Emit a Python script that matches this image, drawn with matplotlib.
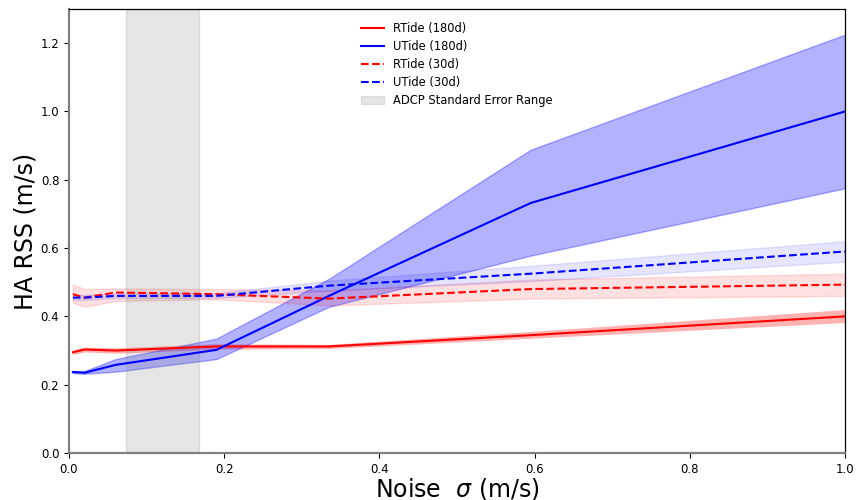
import matplotlib
matplotlib.use("Agg")
import matplotlib.pyplot as plt
import numpy as np

noise = [0.005, 0.02, 0.06, 0.19, 0.335, 0.595, 1.0]

rtide180 = [0.295, 0.303, 0.300, 0.312, 0.312, 0.345, 0.400]
rtide180_lo = [0.288, 0.296, 0.292, 0.304, 0.306, 0.336, 0.382]
rtide180_hi = [0.302, 0.310, 0.308, 0.320, 0.318, 0.356, 0.420]

utide180 = [0.237, 0.235, 0.258, 0.302, 0.460, 0.732, 1.000]
utide180_lo = [0.234, 0.232, 0.238, 0.275, 0.428, 0.578, 0.775]
utide180_hi = [0.240, 0.240, 0.275, 0.335, 0.510, 0.888, 1.225]

rtide30 = [0.465, 0.455, 0.470, 0.465, 0.452, 0.480, 0.493]
rtide30_lo = [0.440, 0.428, 0.445, 0.450, 0.432, 0.452, 0.460]
rtide30_hi = [0.493, 0.480, 0.482, 0.480, 0.476, 0.508, 0.525]

utide30 = [0.455, 0.455, 0.460, 0.460, 0.490, 0.525, 0.590]
utide30_lo = [0.448, 0.448, 0.454, 0.454, 0.475, 0.503, 0.560]
utide30_hi = [0.463, 0.463, 0.468, 0.468, 0.505, 0.548, 0.620]

adcp_range = [0.0735, 0.1675]

fig = plt.figure(figsize=(8.6, 5.0), dpi=100)
ax = fig.add_axes([69/860, 47/500, 776/860, 444/500])

ax.plot(noise, rtide180, color='red', lw=1.5, label='RTide (180d)')
ax.fill_between(noise, rtide180_lo, rtide180_hi, color='red', alpha=0.3, lw=0)
ax.plot(noise, utide180, color='blue', lw=1.5, label='UTide (180d)')
ax.fill_between(noise, utide180_lo, utide180_hi, color='blue', alpha=0.3, lw=1)
ax.plot(noise, rtide30, color='red', lw=1.5, ls='--', label='RTide (30d)')
ax.fill_between(noise, rtide30_lo, rtide30_hi, color='red', alpha=0.12, lw=1)
ax.plot(noise, utide30, color='blue', lw=1.5, ls='--', label='UTide (30d)')
ax.fill_between(noise, utide30_lo, utide30_hi, color='blue', alpha=0.1, lw=1)
ax.axvspan(adcp_range[0], adcp_range[1], facecolor='gray', edgecolor='gray', alpha=0.2, lw=1,
           label='ADCP Standard Error Range')

ax.set_xlim(0, 1.0)
ax.set_ylim(0, 1.3)
ax.set_yticks(np.arange(0, 1.21, 0.2))
ax.set_xticks(np.arange(0, 1.01, 0.2))
ax.tick_params(labelsize=8.5)
ax.set_xlabel(r'Noise  $\sigma$ (m/s)', fontsize=17, labelpad=0)
ax.set_ylabel('HA RSS (m/s)', fontsize=17, labelpad=2)
for s in ['left', 'bottom']:
    ax.spines[s].set_color('gray')
    ax.spines[s].set_linewidth(1.6)
for s in ['top', 'right']:
    ax.spines[s].set_linewidth(0.9)

ax.legend(loc='upper center', frameon=False, fontsize=8.3, bbox_to_anchor=(0.5, 0.995),
          labelspacing=0.45)

fig.savefig('out.png', dpi=100)
